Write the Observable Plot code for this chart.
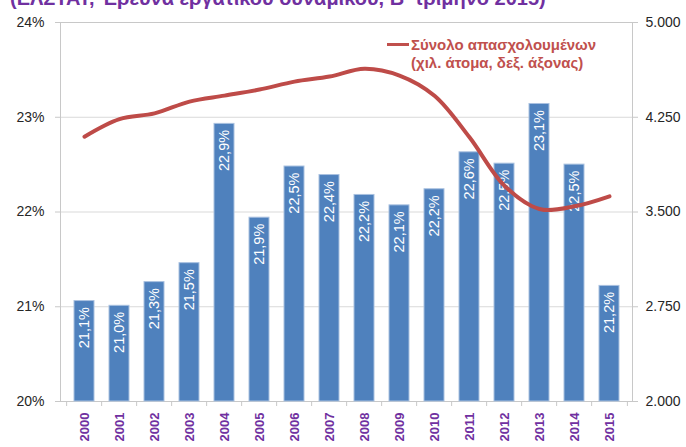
<!DOCTYPE html>
<html>
<head>
<meta charset="utf-8">
<script src="https://cdn.jsdelivr.net/npm/d3@7"></script>
<script src="https://cdn.jsdelivr.net/npm/@observablehq/plot@0.6"></script>
<style>
  body { margin: 0; background: #fff; }
  #wrap { position: relative; width: 686px; height: 447px; overflow: hidden; font-family: "Liberation Sans", Arial, sans-serif; }
  #title { position: absolute; left: 10px; top: -12px; font-size: 20px; line-height: 20px; font-weight: bold; color: #7030A0; white-space: nowrap; }
  #legend { position: absolute; left: 387px; top: 36px; color: #C0504D; font-weight: bold; font-size: 15px; line-height: 18px; }
  #legend .swatch { position: absolute; left: 0; top: 7px; width: 22px; height: 3px; background: #C0504D; }
  #legend .txt { position: absolute; left: 24px; top: 0; white-space: nowrap; }
  #chart { position: absolute; left: 0; top: 0; }
</style>
</head>
<body>
<div id="wrap">
  <div id="chart"></div>
  <div id="title">(ΕΛΣΤΑΤ, Έρευνα εργατικού δυναμικού, Β' τρίμηνο 2015)</div>
  <div id="legend"><div class="swatch"></div><div class="txt">Σύνολο απασχολουμένων<br>(χιλ. άτομα, δεξ. άξονας)</div></div>
</div>
<script>
const years = ["2000","2001","2002","2003","2004","2005","2006","2007","2008","2009","2010","2011","2012","2013","2014","2015"];
const shareValues = [21.06, 21.01, 21.26, 21.46, 22.93, 21.94, 22.48, 22.39, 22.18, 22.07, 22.24, 22.63, 22.51, 23.14, 22.50, 21.22];
const shareLabels = ["21,1%","21,0%","21,3%","21,5%","22,9%","21,9%","22,5%","22,4%","22,2%","22,1%","22,2%","22,6%","22,5%","23,1%","22,5%","21,2%"];
const employed = [4096, 4235, 4281, 4374, 4421, 4469, 4532, 4572, 4634, 4580, 4420, 4091, 3708, 3524, 3545, 3624];
const leftTicks = [20, 21, 22, 23, 24];
const leftTickLabels = ["20%", "21%", "22%", "23%", "24%"];
const rightTickLabels = ["2.000", "2.750", "3.500", "4.250", "5.000"];

const rows = years.map((y, i) => ({year: y, pct: shareValues[i], label: shareLabels[i], emp: employed[i]}));

// map right axis (2000..5000) onto left axis (20..24)
const rightToLeft = d3.scaleLinear().domain([2000, 5000]).range([20, 24]);

const W = 686, H = 447, mL = 60, mR = 54, mT = 22, mB = 46;
const step = (W - mL - mR) / years.length;

const chart = Plot.plot({
  width: W, height: H,
  marginLeft: mL, marginRight: mR, marginTop: mT, marginBottom: mB,
  style: {fontFamily: "Liberation Sans, Arial, sans-serif", background: "transparent"},
  x: {type: "band", domain: years, paddingInner: 0.44, paddingOuter: 0.22, axis: null, label: null},
  y: {domain: [20, 24], axis: null, label: null},
  marks: [
    Plot.ruleY(leftTicks.slice(1), {stroke: "#D9D9D9", strokeWidth: 1}),
    Plot.frame({stroke: "#C8C8C8", strokeWidth: 1}),
    Plot.axisY({anchor: "left", label: null, ticks: leftTicks, tickFormat: (d) => leftTickLabels[leftTicks.indexOf(d)], tickSize: 5, tickPadding: 11, fontSize: 14, color: "#262626", stroke: "#C8C8C8"}),
    Plot.axisY({anchor: "right", label: null, ticks: leftTicks, tickFormat: (d) => rightTickLabels[leftTicks.indexOf(d)], tickSize: 5, tickPadding: 8, fontSize: 14, color: "#262626", stroke: "#C8C8C8"}),
    Plot.axisX({anchor: "bottom", label: null, tickSize: 5, tickFormat: () => "", dx: -step / 2, stroke: "#C8C8C8"}),
    Plot.ruleX([years[years.length - 1]], {y1: 20, y2: 20, insetBottom: -5, dx: step / 2, stroke: "#C8C8C8"}),
    Plot.barY(rows, {x: "year", y1: 20, y2: "pct", fill: "#4F81BD", stroke: "#A9C1E0", strokeWidth: 1}),
    Plot.text(rows, {x: "year", y: "pct", text: "label", rotate: -90, textAnchor: "end", dy: 6, fill: "white", fontSize: 14.5}),
    Plot.text(years, {x: d => d, y: 20, text: d => d, rotate: -90, textAnchor: "end", dy: 11, fill: "#7030A0", fontSize: 13, fontWeight: "bold"}),
    Plot.lineY(rows, {x: "year", y: d => rightToLeft(d.emp), stroke: "#BE4B48", strokeWidth: 4, curve: "catmull-rom"})
  ]
});
document.getElementById("chart").appendChild(chart);
</script>
</body>
</html>
